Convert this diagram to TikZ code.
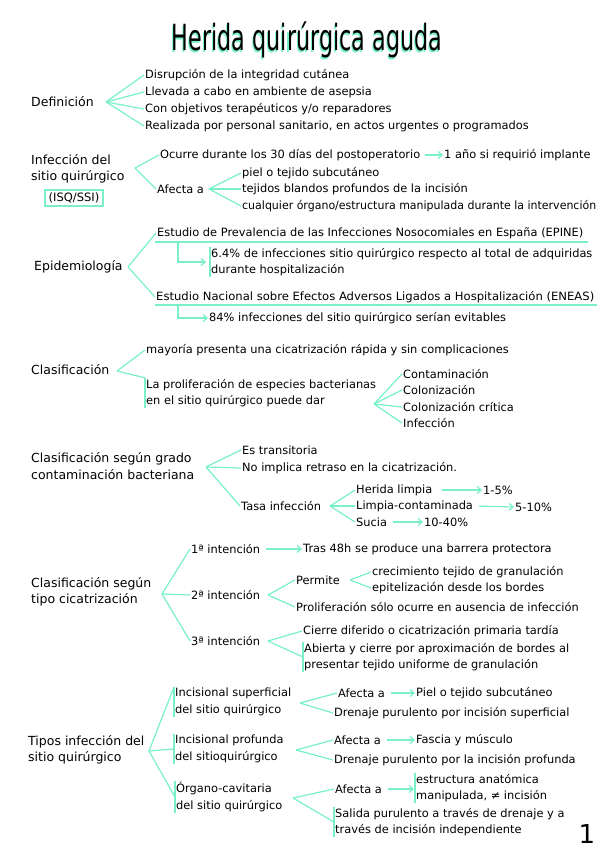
\documentclass[tikz,border=0pt]{standalone}
\usepackage{fontspec}
\usepackage{graphicx}
\setmainfont{DejaVu Sans}
\usetikzlibrary{arrows.meta}
\definecolor{aqua}{RGB}{120,240,200}
\newcommand{\titlefont}{\fontsize{36}{40}\selectfont}
\newcommand{\shadowtext}[1]{\rlap{\color{aqua}\kern-1.8pt\raisebox{-1.2pt}{#1}}#1}
\newcommand{\fitw}[2]{\resizebox{#1}{\height}{#2}}
\begin{document}
\begin{tikzpicture}[x=1pt,y=-1pt,
  ln/.style={draw=aqua,line width=1.2pt},
  ar/.style={ln,-{Straight Barb[length=4pt,width=7pt]}},
  t/.style={anchor=west,inner sep=1pt,font=\fontsize{11.4}{16.5}\selectfont,align=left},
  cat/.style={t,font=\fontsize{12.5}{16.5}\selectfont},
  bar/.style={draw=aqua,line width=1.5pt}]
\useasboundingbox (0,0) rectangle (599,848);

% title
\node[anchor=base,inner sep=0] (title) at (307,51) {\titlefont\scalebox{0.62}[1]{\shadowtext{Herida quirúrgica aguda}}};

% Definicion
\node[cat] (def) at (30,102) {Definición};
\coordinate (defb) at (106,102);
\node[t] (d1) at (144,75) {Disrupción de la integridad cutánea};
\node[t] (d2) at (144,92) {Llevada a cabo en ambiente de asepsia};
\node[t] (d3) at (144,109) {Con objetivos terapéuticos y/o reparadores};
\node[t] (d4) at (144,126) {Realizada por personal sanitario, en actos urgentes o programados};
\foreach \n in {d1,d2,d3,d4} \draw[ln] (defb) -- (\n.west);

% Infeccion
\node[cat] (isq) at (30,169) {Infección del\\sitio quirúrgico};
\node[draw=aqua,line width=1.6pt,inner xsep=4pt,inner ysep=3pt,font=\fontsize{11.5}{12}\selectfont] (isqbox) at (74,198) {(ISQ/SSI)};
\coordinate (isqb) at (135,168);
\node[t] (ocu) at (159,155) {Ocurre durante los 30 días del postoperatorio};
\node[t] (ano) at (443,155) {1 año si requirió implante};
\draw[ar,shorten <=3pt] (ocu.east) -- (ano.west);
\node[t] (afe) at (156,189) {Afecta a};
\draw[ln] (isqb) -- (ocu.west);
\draw[ln] (isqb) -- (afe.west);
\coordinate (afeb) at (209,189);
\node[t] (p1) at (241,173) {piel o tejido subcutáneo};
\node[t] (p2) at (241,189) {tejidos blandos profundos de la incisión};
\node[t] (p3) at (241,206) {\fitw{354pt}{cualquier órgano/estructura manipulada durante la intervención}};
\foreach \n in {p1,p2,p3} \draw[ln] (afeb) -- (\n.west);

% Epidemiologia
\node[cat] (epi) at (33,267) {Epidemiología};
\coordinate (epib) at (128,267);
\node[t] (epine) at (156,233) {\fitw{426pt}{Estudio de Prevalencia de las Infecciones Nosocomiales en España (EPINE)}};
\draw[ln] (epib) -- (epine.west);
\coordinate (u1s) at (155,242);
\coordinate (u1e) at (588,242);
\draw[ln] (u1s) -- (u1e);
\coordinate (v1) at (178,242);
\node[t] (e64) at (210,262) {6.4\% de infecciones sitio quirúrgico respecto al total de adquiridas\\durante hospitalización};
\draw[bar] (e64.north west) -- (e64.south west);
\draw[ar] (v1) |- ([xshift=-4pt]e64.west);
\node[t] (eneas) at (155,297) {\fitw{438pt}{Estudio Nacional sobre Efectos Adversos Ligados a Hospitalización (ENEAS)}};
\draw[ln] (epib) -- (eneas.west);
\coordinate (u2s) at (155,305);
\coordinate (u2e) at (597,305);
\draw[ln] (u2s) -- (u2e);
\coordinate (v2) at (178,305);
\node[t] (e84) at (208,318) {84\% infecciones del sitio quirúrgico serían evitables};
\draw[ar] (v2) |- (e84.west);

% Clasificacion
\node[cat] (cla) at (30,370) {Clasificación};
\coordinate (clab) at (117,371);
\node[t] (may) at (145,350) {mayoría presenta una cicatrización rápida y sin complicaciones};
\node[t] (pro) at (145,393) {La proliferación de especies bacterianas\\en el sitio quirúrgico puede dar};
\draw[ln] (clab) -- (may.west);
\draw[ln] (clab) -- (pro.north west);
\draw[bar] (pro.north west) -- (pro.south west);
\coordinate (prob) at (374,404);
\node[t] (c1) at (402,374) {Contaminación};
\node[t] (c2) at (402,390) {Colonización};
\node[t] (c3) at (402,407) {Colonización crítica};
\node[t] (c4) at (402,423) {Infección};
\foreach \n in {c1,c2,c3,c4} \draw[ln] (prob) -- (\n.west);

% Clasificacion segun grado
\node[cat] (cg) at (30,466) {Clasificación según grado\\contaminación bacteriana};
\coordinate (cgb) at (206,467);
\node[t] (es) at (241,450) {Es transitoria};
\node[t] (no) at (241,468) {No implica retraso en la cicatrización.};
\node[t] (tasa) at (240,506) {Tasa infección};
\foreach \n in {es,no,tasa} \draw[ln] (cgb) -- (\n.west);
\coordinate (tab) at (330,506);
\node[t] (hl) at (355,490) {Herida limpia};
\node[t] (p15) at (482,490) {1-5\%};
\node[t] (lc) at (355,506) {Limpia-contaminada};
\node[t] (p510) at (514,507) {5-10\%};
\node[t] (su) at (355,522) {Sucia};
\node[t] (p1040) at (423,522) {10-40\%};
\foreach \n in {hl,lc,su} \draw[ln] (tab) -- (\n.west);
\draw[ar,shorten <=8pt] (hl.east) -- (p15.west);
\draw[ar,shorten <=5pt] (lc.east) -- (p510.west);
\draw[ar,shorten <=5pt] (su.east) -- (p1040.west);

% Clasificacion segun tipo cicatrizacion
\node[cat] (ct) at (30,592) {Clasificación según\\tipo cicatrización};
\coordinate (ctb) at (162,594);
\node[t] (i1) at (190,549) {1ª intención};
\node[t] (tras) at (302,549) {Tras 48h se produce una barrera protectora};
\draw[ar,shorten <=5pt] (i1.east) -- (tras.west);
\node[t] (i2) at (190,595) {2ª intención};
\node[t] (i3) at (190,641) {3ª intención};
\foreach \n in {i1,i2,i3} \draw[ln] (ctb) -- (\n.west);
\coordinate (i2b) at (268,595);
\node[t] (per) at (295,580) {Permite};
\node[t] (pro2) at (295,607) {Proliferación sólo ocurre en ausencia de infección};
\draw[ln] (i2b) -- (per.west);
\draw[ln] (i2b) -- (pro2.west);
\coordinate (perb) at (350,580);
\node[t] (cre) at (371,572) {crecimiento tejido de granulación};
\node[t] (epit) at (371,588) {epitelización desde los bordes};
\draw[ln] (perb) -- (cre.west);
\draw[ln] (perb) -- (epit.west);
\coordinate (i3b) at (268,641);
\node[t] (cie) at (302,631) {Cierre diferido o cicatrización primaria tardía};
\node[t] (abi) at (303,657) {Abierta y cierre por aproximación de bordes al\\presentar tejido uniforme de granulación};
\draw[bar] (abi.north west) -- (abi.south west);
\draw[ln] (i3b) -- (cie.west);
\draw[ln] (i3b) -- (abi.west);

% Tipos infeccion
\node[cat] (tip) at (27,750) {Tipos infección del\\sitio quirúrgico};
\coordinate (tipb) at (149,751);
\node[t] (ti1) at (174,702) {Incisional superficial\\del sitio quirúrgico};
\node[t] (ti2) at (174,749) {Incisional profunda\\del sitioquirúrgico};
\node[t] (ti3) at (175,797) {Órgano-cavitaria\\del sitio quirúrgico};
\foreach \n in {ti1,ti2,ti3} \draw[bar] (\n.north west) -- (\n.south west);
\draw[ln] (tipb) -- (ti1.north west);
\draw[ln] (tipb) -- (ti2.west);
\draw[ln] (tipb) -- (ti3.west);
\coordinate (g1) at (300,703);
\node[t] (af1) at (337,693) {Afecta a};
\node[t] (piel) at (415,693) {Piel o tejido subcutáneo};
\draw[ar,shorten <=5pt] (af1.east) -- (piel.west);
\node[t] (dr1) at (333,713) {Drenaje purulento por incisión superficial};
\draw[ln] (g1) -- (af1.west);
\draw[ln] (g1) -- (dr1.west);
\coordinate (g2) at (296,750);
\node[t] (af2) at (333,740) {Afecta a};
\node[t] (fas) at (415,740) {Fascia y músculo};
\draw[ar,shorten <=5pt] (af2.east) -- (fas.west);
\node[t] (dr2) at (333,760) {Drenaje purulento por la incisión profunda};
\draw[ln] (g2) -- (af2.west);
\draw[ln] (g2) -- (dr2.west);
\coordinate (g3) at (293,798);
\node[t] (af3) at (334,789) {Afecta a};
\node[t] (est) at (415,788) {estructura anatómica\\manipulada, ≠ incisión};
\draw[bar] (est.north west) -- (est.south west);
\draw[ar,shorten <=5pt,shorten >=1pt] (af3.east) -- (af3.east -| est.west);
\node[t] (sal) at (334,822) {Salida purulento a través de drenaje y a\\través de incisión independiente};
\draw[bar] (sal.north west) -- (sal.south west);
\draw[ln] (g3) -- (af3.west);
\draw[ln] (g3) -- (sal.west);

% page number
\node[anchor=base,inner sep=0,font=\fontsize{26}{26}\selectfont] (pg) at (587,843) {1};
\end{tikzpicture}
\end{document}
